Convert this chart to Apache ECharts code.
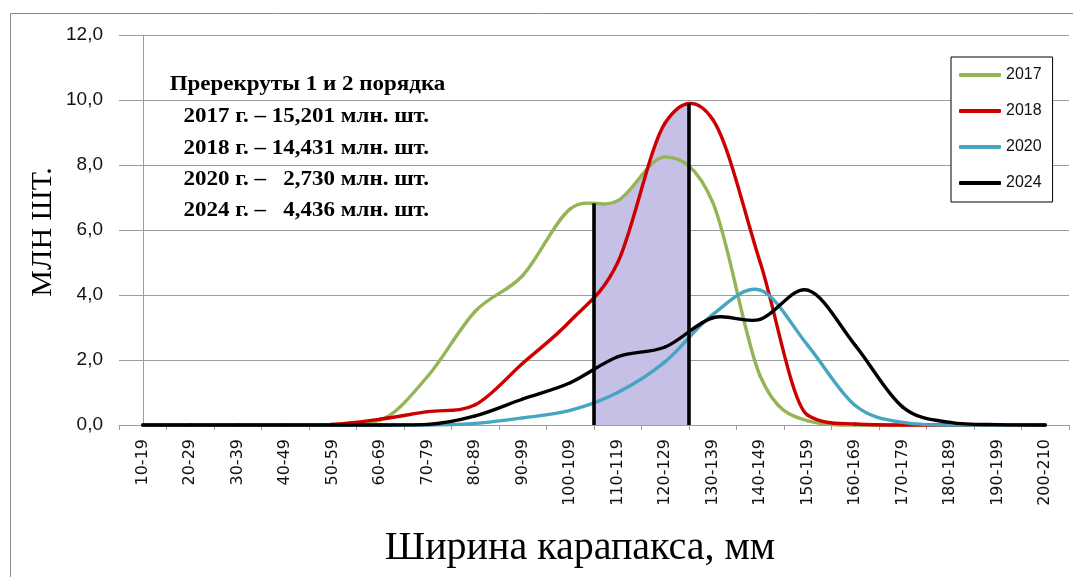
<!DOCTYPE html>
<html>
<head>
<meta charset="utf-8">
<script src="https://cdn.jsdelivr.net/npm/echarts@6/dist/echarts.min.js"></script>
<style>
html,body{margin:0;padding:0;background:#fff;}
#chart{width:1073px;height:577px;}
</style>
</head>
<body>
<div id="chart"></div>
<script>
// ---------- data ----------
const categories = ['10-19','20-29','30-39','40-49','50-59','60-69','70-79','80-89','90-99','100-109',
  '110-119','120-129','130-139','140-149','150-159','160-169','170-179','180-189','190-199','200-210'];
const seriesNames = ['2017','2018','2020','2024'];
const values2017 = [0,0,0,0,0.02,0.15,1.5,3.5,4.6,6.65,6.9,8.25,6.85,1.5,0.13,0,0,0,0,0];
const values2018 = [0,0,0,0,0.02,0.18,0.41,0.62,1.9,3.2,5.0,9.3,9.4,5.0,0.3,0.03,0,0,0,0];
const values2020 = [0,0,0,0,0,0,0,0.05,0.22,0.45,1.0,1.95,3.4,4.15,2.45,0.6,0.08,0,0,0];
const values2024 = [0,0,0,0,0,0,0.02,0.28,0.8,1.3,2.1,2.4,3.3,3.25,4.15,2.45,0.55,0.08,0.01,0];
const yTickValues = [0,2,4,6,8,10,12];
const yTickLabels = ['0,0','2,0','4,0','6,0','8,0','10,0','12,0'];
const shadedCategories = ['110-119','120-129'];
const noteLines = ['Пререкруты 1 и 2 порядка',
  '2017 г. – 15,201 млн. шт.',
  '2018 г. – 14,431 млн. шт.',
  '2020 г. –   2,730 млн. шт.',
  '2024 г. –   4,436 млн. шт.'];
const xAxisTitle = 'Ширина карапакса, мм';
const yAxisTitle = 'МЛН ШТ.';

// ---------- styles ----------
const colors = {'2017':'#93b555','2018':'#cc0000','2020':'#46a5c0','2024':'#000000'};
const allValues = [values2017, values2018, values2020, values2024];
const gridColor = '#9d9d9d';
const shadeColor = '#c6bfe6';

// Excel-like smoothing (Catmull-Rom Bezier) in data space, x in category index units
function tangent(vals, i) {
  const n = vals.length;
  let m = (vals[Math.min(i + 1, n - 1)] - vals[Math.max(i - 1, 0)]) / 6;
  const lim = Math.abs(vals[i]);
  if (m > lim) m = lim;
  if (m < -lim) m = -lim;
  return m;
}
function controls(vals, i) {
  const p1 = vals[i], p2 = vals[i + 1];
  return [p1, p1 + tangent(vals, i), p2 - tangent(vals, i + 1), p2];
}
function splineAt(vals, x) {
  const n = vals.length;
  let i = Math.floor(x);
  if (i > n - 2) i = n - 2;
  if (i < 0) i = 0;
  const t = x - i, u = 1 - t;
  const c = controls(vals, i);
  return u*u*u*c[0] + 3*u*u*t*c[1] + 3*u*t*t*c[2] + t*t*t*c[3];
}
function topAt(x) {
  return Math.max.apply(null, allValues.map(v => splineAt(v, x)));
}

function curveSeries(name, vals) {
  const color = colors[name];
  return {
    type: 'custom', name: name, xAxisIndex: 1, yAxisIndex: 0, z: 3, silent: true,
    itemStyle: {color: color},
    data: vals.map((v, i) => [i, v]),
    renderItem: function (params, api) {
      const i = params.dataIndex, n = vals.length;
      if (i >= n - 1) return null;
      const c = controls(vals, i);
      const a = api.coord([i, api.value(1)]), b = api.coord([i + 1/3, c[1]]),
            e = api.coord([i + 2/3, c[2]]), d = api.coord([i + 1, c[3]]);
      return {
        type: 'bezierCurve',
        shape: {x1: a[0], y1: a[1], cpx1: b[0], cpy1: b[1], cpx2: e[0], cpy2: e[1], x2: d[0], y2: d[1]},
        style: {stroke: color, lineWidth: 3.4, fill: 'none', lineCap: 'round'}
      };
    }
  };
}

const shadeFrom = categories.indexOf(shadedCategories[0]) - 0.5;
const shadeTo = categories.indexOf(shadedCategories[1]) + 0.5;

const shadeSeries = {
  type: 'custom', name: 'shade', xAxisIndex: 1, yAxisIndex: 0, z: 1, silent: true,
  data: [[shadeFrom, shadeTo]],
  renderItem: function (params, api) {
    const x0 = api.value(0), x1 = api.value(1);
    const pts = [api.coord([x0, 0])];
    const steps = 120;
    for (let k = 0; k <= steps; k++) {
      const x = x0 + (x1 - x0) * k / steps;
      pts.push(api.coord([x, topAt(x)]));
    }
    pts.push(api.coord([x1, 0]));
    return {type: 'polygon', shape: {points: pts}, style: {fill: shadeColor, stroke: 'none'}};
  }
};

const dividerSeries = {
  type: 'custom', name: 'divider', xAxisIndex: 1, yAxisIndex: 0, z: 5, silent: true,
  data: [[shadeFrom, 0], [shadeTo, 0]],
  renderItem: function (params, api) {
    const x = api.value(0);
    const a = api.coord([x, 0]), b = api.coord([x, topAt(x)]);
    return {type: 'line', shape: {x1: a[0], y1: a[1], x2: b[0], y2: b[1]},
      style: {stroke: '#000', lineWidth: 3.6, lineCap: 'butt'}};
  }
};

const noteGraphics = noteLines.map((txt, k) => ({
  type: 'text',
  x: k === 0 ? 307.5 : 183.5,
  y: [85, 117, 148.5, 180, 210.5][k],
  scaleX: 1.15,
  silent: true,
  style: {
    text: txt,
    font: 'bold 20px "Liberation Serif", "Times New Roman", serif',
    fill: '#000',
    textAlign: k === 0 ? 'center' : 'left',
    textVerticalAlign: 'middle',
    align: k === 0 ? 'center' : 'left',
    verticalAlign: 'middle'
  }
}));

const chart = echarts.init(document.getElementById('chart'), null, {renderer: 'canvas'});
chart.setOption({
  animation: false,
  backgroundColor: '#ffffff',
  grid: {left: 119, right: 4, top: 35, bottom: 152, containLabel: false},
  legend: {
    data: seriesNames.map(n => ({name: n, itemStyle: {color: colors[n]}})),
    orient: 'vertical', left: 951, top: 57,
    padding: [8, 11, 9, 8],
    itemGap: 16, itemWidth: 42, itemHeight: 4, icon: 'roundRect',
    backgroundColor: '#fff', borderColor: '#000', borderWidth: 1,
    textStyle: {fontFamily: '"Liberation Sans", Arial, sans-serif', fontSize: 16, lineHeight: 20, color: '#111'},
    selectedMode: false
  },
  xAxis: [{
    type: 'category', data: categories, boundaryGap: true,
    axisLine: {show: true, lineStyle: {color: gridColor, width: 1}},
    axisTick: {show: true, length: 5, lineStyle: {color: gridColor}},
    axisLabel: {rotate: 90, margin: 14, interval: 0, color: '#111',
      fontFamily: '"DejaVu Sans", sans-serif', fontSize: 16},
    splitLine: {show: false}
  }, {
    type: 'value', min: -0.5, max: 19.5, show: false
  }],
  yAxis: {
    type: 'value', min: 0, max: 12, interval: 2,
    axisLine: {show: true, lineStyle: {color: gridColor, width: 1}},
    axisTick: {show: true, length: 6, lineStyle: {color: gridColor}},
    axisLabel: {margin: 16, color: '#111', fontFamily: '"Liberation Sans", Arial, sans-serif', fontSize: 19,
      formatter: v => yTickLabels[yTickValues.indexOf(v)]},
    splitLine: {show: true, lineStyle: {color: gridColor, width: 1}}
  },
  graphic: [
    {type: 'rect', silent: true, z: -10, shape: {x: 10.5, y: 13.5, width: 1200, height: 800},
      style: {fill: 'none', stroke: '#8a8a8a', lineWidth: 1}},
    {type: 'text', x: 43, y: 232, rotation: Math.PI / 2, silent: true,
      style: {text: yAxisTitle, font: '30px "Liberation Serif", "Times New Roman", serif', fill: '#000',
        textAlign: 'center', textVerticalAlign: 'middle', align: 'center', verticalAlign: 'middle'}},
    {type: 'text', x: 580, y: 548, silent: true,
      style: {text: xAxisTitle, font: '40px "Liberation Serif", "Times New Roman", serif', fill: '#000',
        textAlign: 'center', textVerticalAlign: 'middle', align: 'center', verticalAlign: 'middle'}}
  ].concat(noteGraphics),
  series: [shadeSeries]
    .concat(seriesNames.map((n, k) => curveSeries(n, allValues[k])))
    .concat([dividerSeries])
});
</script>
</body>
</html>
